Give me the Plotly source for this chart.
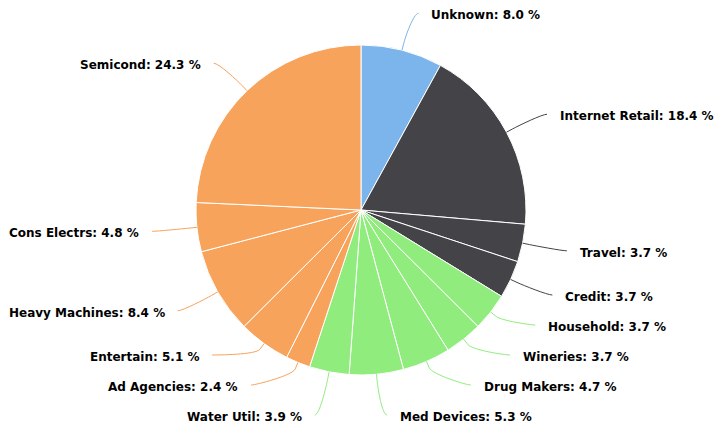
import math
import plotly.graph_objects as go

# ---- data -------------------------------------------------------------
categories = ["Unknown", "Internet Retail", "Travel", "Credit", "Household",
              "Wineries", "Drug Makers", "Med Devices", "Water Util",
              "Ad Agencies", "Entertain", "Heavy Machines", "Cons Electrs",
              "Semicond"]
shares = [8.0, 18.4, 3.7, 3.7, 3.7, 3.7, 4.7, 5.3, 3.9, 2.4, 5.1, 8.4, 4.8, 24.3]
sector = ["other", "consumer", "consumer", "consumer", "staples", "staples",
          "staples", "staples", "staples", "tech", "tech", "tech", "tech", "tech"]

# ---- styling / geometry ------------------------------------------------
W, H = 715, 426
CX, CY, RADIUS = 361, 210, 165          # pie centre and radius in px
LABEL_R = 203                            # circle the labels are laid out on
BREAK = 7                                # connector break distance from the rim
SPACING = 30                             # minimum vertical gap between labels
Y_MIN, Y_MAX = 9, 415                    # vertical room for label anchors
TEXT_GAP = 12                            # gap between connector end and text
FONT = dict(family="DejaVu Sans", size=12, color="#000000", weight="bold")
SECTOR_COLORS = {"other": "#7cb5ec", "consumer": "#434348",
                 "staples": "#90ed7d", "tech": "#f7a35c"}
colors = [SECTOR_COLORS[s] for s in sector]

total = sum(shares)


def distribute(items):
    """Spread label anchors so they keep SPACING apart inside the bounds."""
    items = sorted(items, key=lambda it: it["natural"])
    groups = [{"members": [it], "start": min(max(it["natural"], Y_MIN), Y_MAX)}
              for it in items]

    def place(g):
        n = len(g["members"])
        mean = sum(m["natural"] for m in g["members"]) / n
        start = mean - (n - 1) * SPACING / 2
        start = max(Y_MIN, min(start, Y_MAX - (n - 1) * SPACING))
        g["start"] = start

    merged = True
    while merged:
        merged = False
        for i in range(len(groups) - 1):
            a, b = groups[i], groups[i + 1]
            a_end = a["start"] + (len(a["members"]) - 1) * SPACING
            if b["start"] - a_end < SPACING:
                a["members"] += b["members"]
                place(a)
                del groups[i + 1]
                merged = True
                break
    for g in groups:
        for k, m in enumerate(g["members"]):
            m["y"] = g["start"] + k * SPACING


def reach(y):
    s = max(-1.0, min(1.0, (y - CY) / LABEL_R))
    return LABEL_R * math.cos(math.asin(s))


# slice mid angles, clockwise from 12 o'clock
items = []
cum = 0.0
for i, v in enumerate(shares):
    theta = 2 * math.pi * (cum + v / 2) / total
    cum += v
    items.append({
        "i": i,
        "theta": theta,
        "right": theta < math.pi,
        "natural": CY - LABEL_R * math.cos(theta),
    })

distribute([it for it in items if it["right"]])
distribute([it for it in items if not it["right"]])

shapes = []
annotations = []
for it in items:
    i, th, sgn = it["i"], it["theta"], (1 if it["right"] else -1)
    y = it["y"]
    at_edge = y <= Y_MIN + 2 or y >= Y_MAX - 2
    off = reach(it["natural"] if at_edge else y)
    conn_x = CX + sgn * (off + 7)
    text_x = conn_x + sgn * TEXT_GAP

    tx, ty = CX + RADIUS * math.sin(th), CY - RADIUS * math.cos(th)
    bx = CX + (RADIUS + BREAK) * math.sin(th)
    by = CY - (RADIUS + BREAK) * math.cos(th)
    c1x = conn_x - sgn * 5
    c2x, c2y = 2 * bx - tx, 2 * by - ty
    path = (f"M {conn_x:.2f},{y:.2f} C {c1x:.2f},{y:.2f} {c2x:.2f},{c2y:.2f} "
            f"{bx:.2f},{by:.2f} L {tx:.2f},{ty:.2f}")
    shapes.append(dict(type="path", path=path, xref="x", yref="y",
                       line=dict(color=colors[i], width=1), layer="above"))

    annotations.append(dict(
        x=text_x, y=y + 2, xref="x", yref="y",
        text=f"{categories[i]}: {shares[i]:.1f} %",
        showarrow=False, font=FONT, borderpad=0,
        xanchor="left" if it["right"] else "right", yanchor="middle",
    ))

fig = go.Figure()
# invisible trace so the pixel-scaled axes exist for labels and connectors
fig.add_trace(go.Scatter(x=[None], y=[None], showlegend=False, hoverinfo="skip"))
fig.add_trace(go.Pie(
    labels=categories,
    values=shares,
    sort=False,
    direction="clockwise",
    rotation=0,
    textinfo="none",
    hovertemplate="%{label}: %{value:.1f} %<extra></extra>",
    marker=dict(colors=colors, line=dict(color="#ffffff", width=1)),
    domain=dict(x=[(CX - RADIUS) / W, (CX + RADIUS) / W],
                y=[(H - CY - RADIUS) / H, (H - CY + RADIUS) / H]),
    showlegend=False,
))

fig.update_layout(
    width=W, height=H,
    margin=dict(l=0, r=0, t=0, b=0),
    paper_bgcolor="#ffffff",
    plot_bgcolor="rgba(0,0,0,0)",
    showlegend=False,
    xaxis=dict(range=[0, W], visible=False, fixedrange=True),
    yaxis=dict(range=[H, 0], visible=False, fixedrange=True),
    shapes=shapes,
    annotations=annotations,
)

fig.write_html("out.html")
